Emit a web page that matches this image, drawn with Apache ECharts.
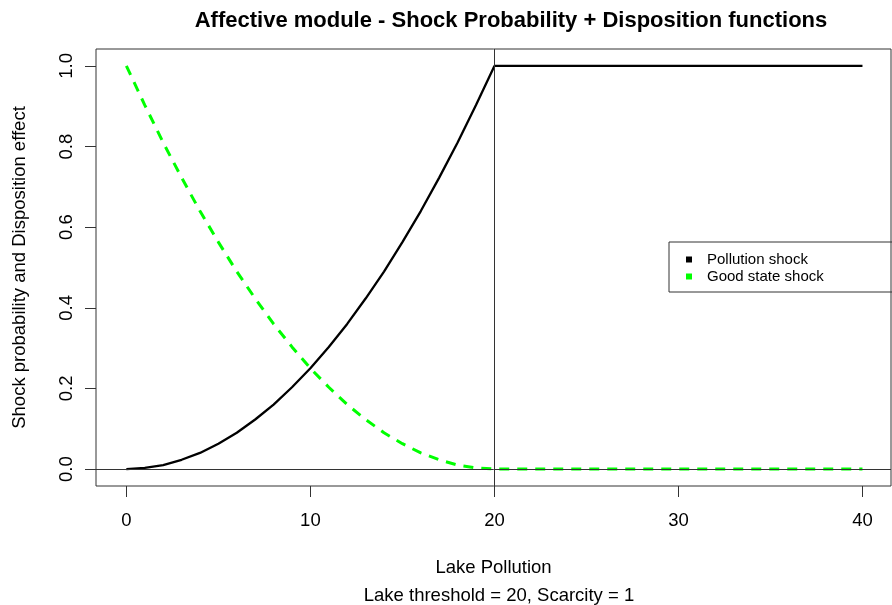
<!DOCTYPE html>
<html>
<head>
<meta charset="utf-8">
<script src="https://cdn.jsdelivr.net/npm/echarts@6/dist/echarts.min.js"></script>
<style>
  html, body { margin: 0; padding: 0; background: #fff; }
  #chart { width: 892px; height: 605px; }
</style>
</head>
<body>
<div id="chart"></div>
<script>
// lake pollution levels
var pollution = [0,1,2,3,4,5,6,7,8,9,10,11,12,13,14,15,16,17,18,19,20,
  21,22,23,24,25,26,27,28,29,30,31,32,33,34,35,36,37,38,39,40];
// pollution shock probability
var pollutionShock = [0,0.003,0.01,0.023,0.04,0.063,0.09,0.123,0.16,0.203,0.25,
  0.303,0.36,0.423,0.49,0.563,0.64,0.723,0.81,0.903,1,
  1,1,1,1,1,1,1,1,1,1,1,1,1,1,1,1,1,1,1,1];
// good state shock / disposition effect
var goodShock = [1,0.903,0.81,0.723,0.64,0.563,0.49,0.423,0.36,0.303,0.25,
  0.203,0.16,0.123,0.09,0.063,0.04,0.023,0.01,0.003,0,
  0,0,0,0,0,0,0,0,0,0,0,0,0,0,0,0,0,0,0,0];
var xTicks = [0, 10, 20, 30, 40];
var yTicks = [0, 0.2, 0.4, 0.6, 0.8, 1.0];
var threshold = 20;

var font = 'Liberation Sans, Arial, sans-serif';

function pairs(xs, ys) {
  return xs.map(function(x, i){ return [x, ys[i]]; });
}

var chart = echarts.init(document.getElementById('chart'));

var option = {
  animation: false,
  backgroundColor: '#fff',
  title: [{
    text: 'Affective module - Shock Probability + Disposition functions',
    left: 506,
    top: 5,
    textAlign: 'center',
    textStyle: { fontFamily: font, fontSize: 22, fontWeight: 'bold', color: '#000' }
  }, {
    text: 'Lake threshold = 20, Scarcity = 1',
    left: 494,
    top: 581,
    textAlign: 'center',
    textStyle: { fontFamily: font, fontSize: 18.5, fontWeight: 'normal', color: '#000' }
  }],
  grid: {
    show: true,
    left: 96, top: 49, right: 1, bottom: 119,
    borderColor: '#333', borderWidth: 1,
    containLabel: false,
    outerBoundsMode: 'none'
  },
  legend: {
    orient: 'vertical',
    left: 669, top: 242,
    icon: 'rect',
    itemWidth: 6, itemHeight: 6,
    itemGap: 2,
    padding: [10, 80, 8, 17],
    borderColor: '#333', borderWidth: 1,
    selectedMode: false,
    textStyle: { fontFamily: font, fontSize: 15, color: '#000', lineHeight: 15, padding: [0, 0, 0, 10] },
    data: [
      { name: 'Pollution shock', itemStyle: { color: '#000' } },
      { name: 'Good state shock', itemStyle: { color: '#00ff00' } }
    ]
  },
  xAxis: {
    type: 'value',
    min: -1.65, max: 41.55,
    name: 'Lake Pollution',
    nameLocation: 'middle',
    nameGap: 72,
    nameTextStyle: { fontFamily: font, fontSize: 18.5, color: '#000' },
    axisLine: { show: false, onZero: false },
    splitLine: { show: false },
    axisTick: { show: true, length: 11, customValues: xTicks, lineStyle: { color: '#333' } },
    axisLabel: { customValues: xTicks, margin: 25, fontFamily: font, fontSize: 18.5, color: '#000' }
  },
  yAxis: {
    type: 'value',
    min: -0.042, max: 1.042,
    name: 'Shock probability and Disposition effect',
    nameLocation: 'middle',
    nameGap: 67,
    nameTextStyle: { fontFamily: font, fontSize: 18.5, color: '#000' },
    axisLine: { show: false, onZero: false },
    splitLine: { show: false },
    axisTick: { show: true, length: 11, customValues: yTicks, lineStyle: { color: '#333' } },
    axisLabel: {
      customValues: yTicks, rotate: 90, margin: 20,
      fontFamily: font, fontSize: 18.5, color: '#000',
      formatter: function(v){ return v.toFixed(1); }
    }
  },
  series: [{
    name: 'Pollution shock',
    type: 'line',
    data: pairs(pollution, pollutionShock),
    showSymbol: false,
    symbol: 'none',
    lineStyle: { color: '#000', width: 2.3 },
    itemStyle: { color: '#000' },
    z: 3,
    markLine: {
      silent: true,
      symbol: 'none',
      label: { show: false },
      lineStyle: { color: '#333', width: 1, type: 'solid' },
      data: [{ xAxis: threshold }, { yAxis: 0 }]
    }
  }, {
    name: 'Good state shock',
    type: 'line',
    data: pairs(pollution, goodShock),
    showSymbol: false,
    symbol: 'none',
    lineStyle: { color: '#00ff00', width: 3, type: [10, 8] },
    itemStyle: { color: '#00ff00' },
    z: 4
  }]
};

chart.setOption(option);
</script>
</body>
</html>
